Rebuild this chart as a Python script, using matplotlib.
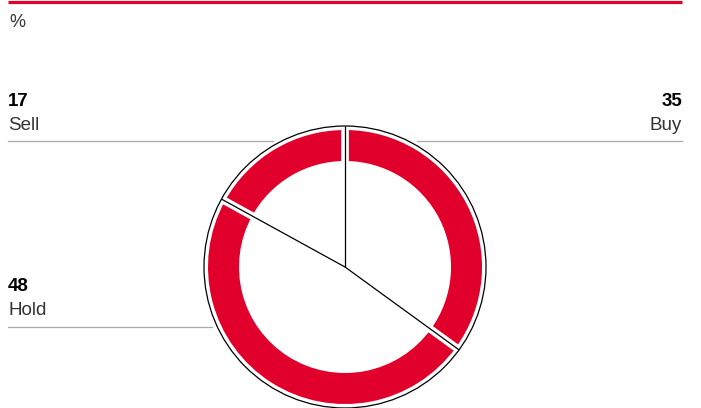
'''Donut chart: analyst recommendations (%)'''
import numpy as np
import matplotlib
matplotlib.use('Agg')
import matplotlib.pyplot as plt

# data, clockwise from 12 o'clock
labels = ['Buy', 'Hold', 'Sell']
values = [35, 48, 17]

RED = '#E1002B'
GREY = '#AAAAAA'
TEXT = '#333333'

W, H = 701, 408
fig = plt.figure(figsize=(W / 100, H / 100), dpi=100)
ax = fig.add_axes([0, 0, 1, 1])

# pixel coordinates, y measured from the top of the picture
def py(y):
    return H - y

cx, cy = 345, py(267)

ax.pie(values, center=(cx, cy), radius=137, startangle=90, counterclock=False,
       colors=[RED] * len(values),
       wedgeprops=dict(width=31, edgecolor='none', linewidth=0))

# separators: white gap plus thin black line from the centre
grenzen = np.cumsum([0] + values[:-1]) / sum(values) * 360
for g in grenzen:
    hoek = np.deg2rad(90 - g)
    ax.plot([cx, cx + 139 * np.cos(hoek)], [cy, cy + 139 * np.sin(hoek)],
            color='white', lw=5.5, solid_capstyle='butt', zorder=3)
for g in grenzen:
    hoek = np.deg2rad(90 - g)
    ax.plot([cx, cx + 141 * np.cos(hoek)], [cy, cy + 141 * np.sin(hoek)],
            color='black', lw=0.9, solid_capstyle='butt', zorder=5)

# outer black ring
ax.add_patch(plt.Circle((cx, cy), 141, fill=False, edgecolor='black', lw=0.9, zorder=4))

# top red rule and unit
ax.plot([8, 682], [py(1.5), py(1.5)], color=RED, lw=2.3, solid_capstyle='butt')
ax.text(9, py(27), '%', fontsize=13, color=TEXT, family='Liberation Sans', va='baseline')

# labels with leader lines
posities = {
    'Buy': dict(x=682, ha='right', y_num=106, y_lab=130, y_lijn=141, x0=417, x1=682),
    'Sell': dict(x=8, ha='left', y_num=106, y_lab=130, y_lijn=141, x0=8, x1=273),
    'Hold': dict(x=8, ha='left', y_num=291, y_lab=315, y_lijn=326.5, x0=8, x1=212),
}
for naam, waarde in zip(labels, values):
    p = posities[naam]
    ax.text(p['x'], py(p['y_num']), str(waarde), fontsize=13.5, fontweight='bold',
            color='black', family='Liberation Sans', ha=p['ha'], va='baseline')
    ax.text(p['x'], py(p['y_lab']), naam, fontsize=13.5, color=TEXT,
            family='Liberation Sans', ha=p['ha'], va='baseline')
    ax.plot([p['x0'], p['x1']], [py(p['y_lijn'])] * 2, color=GREY, lw=0.9)

ax.set_xlim(0, W)
ax.set_ylim(0, H)
ax.set_aspect('equal')
ax.axis('off')

fig.savefig('out.png', dpi=100)
